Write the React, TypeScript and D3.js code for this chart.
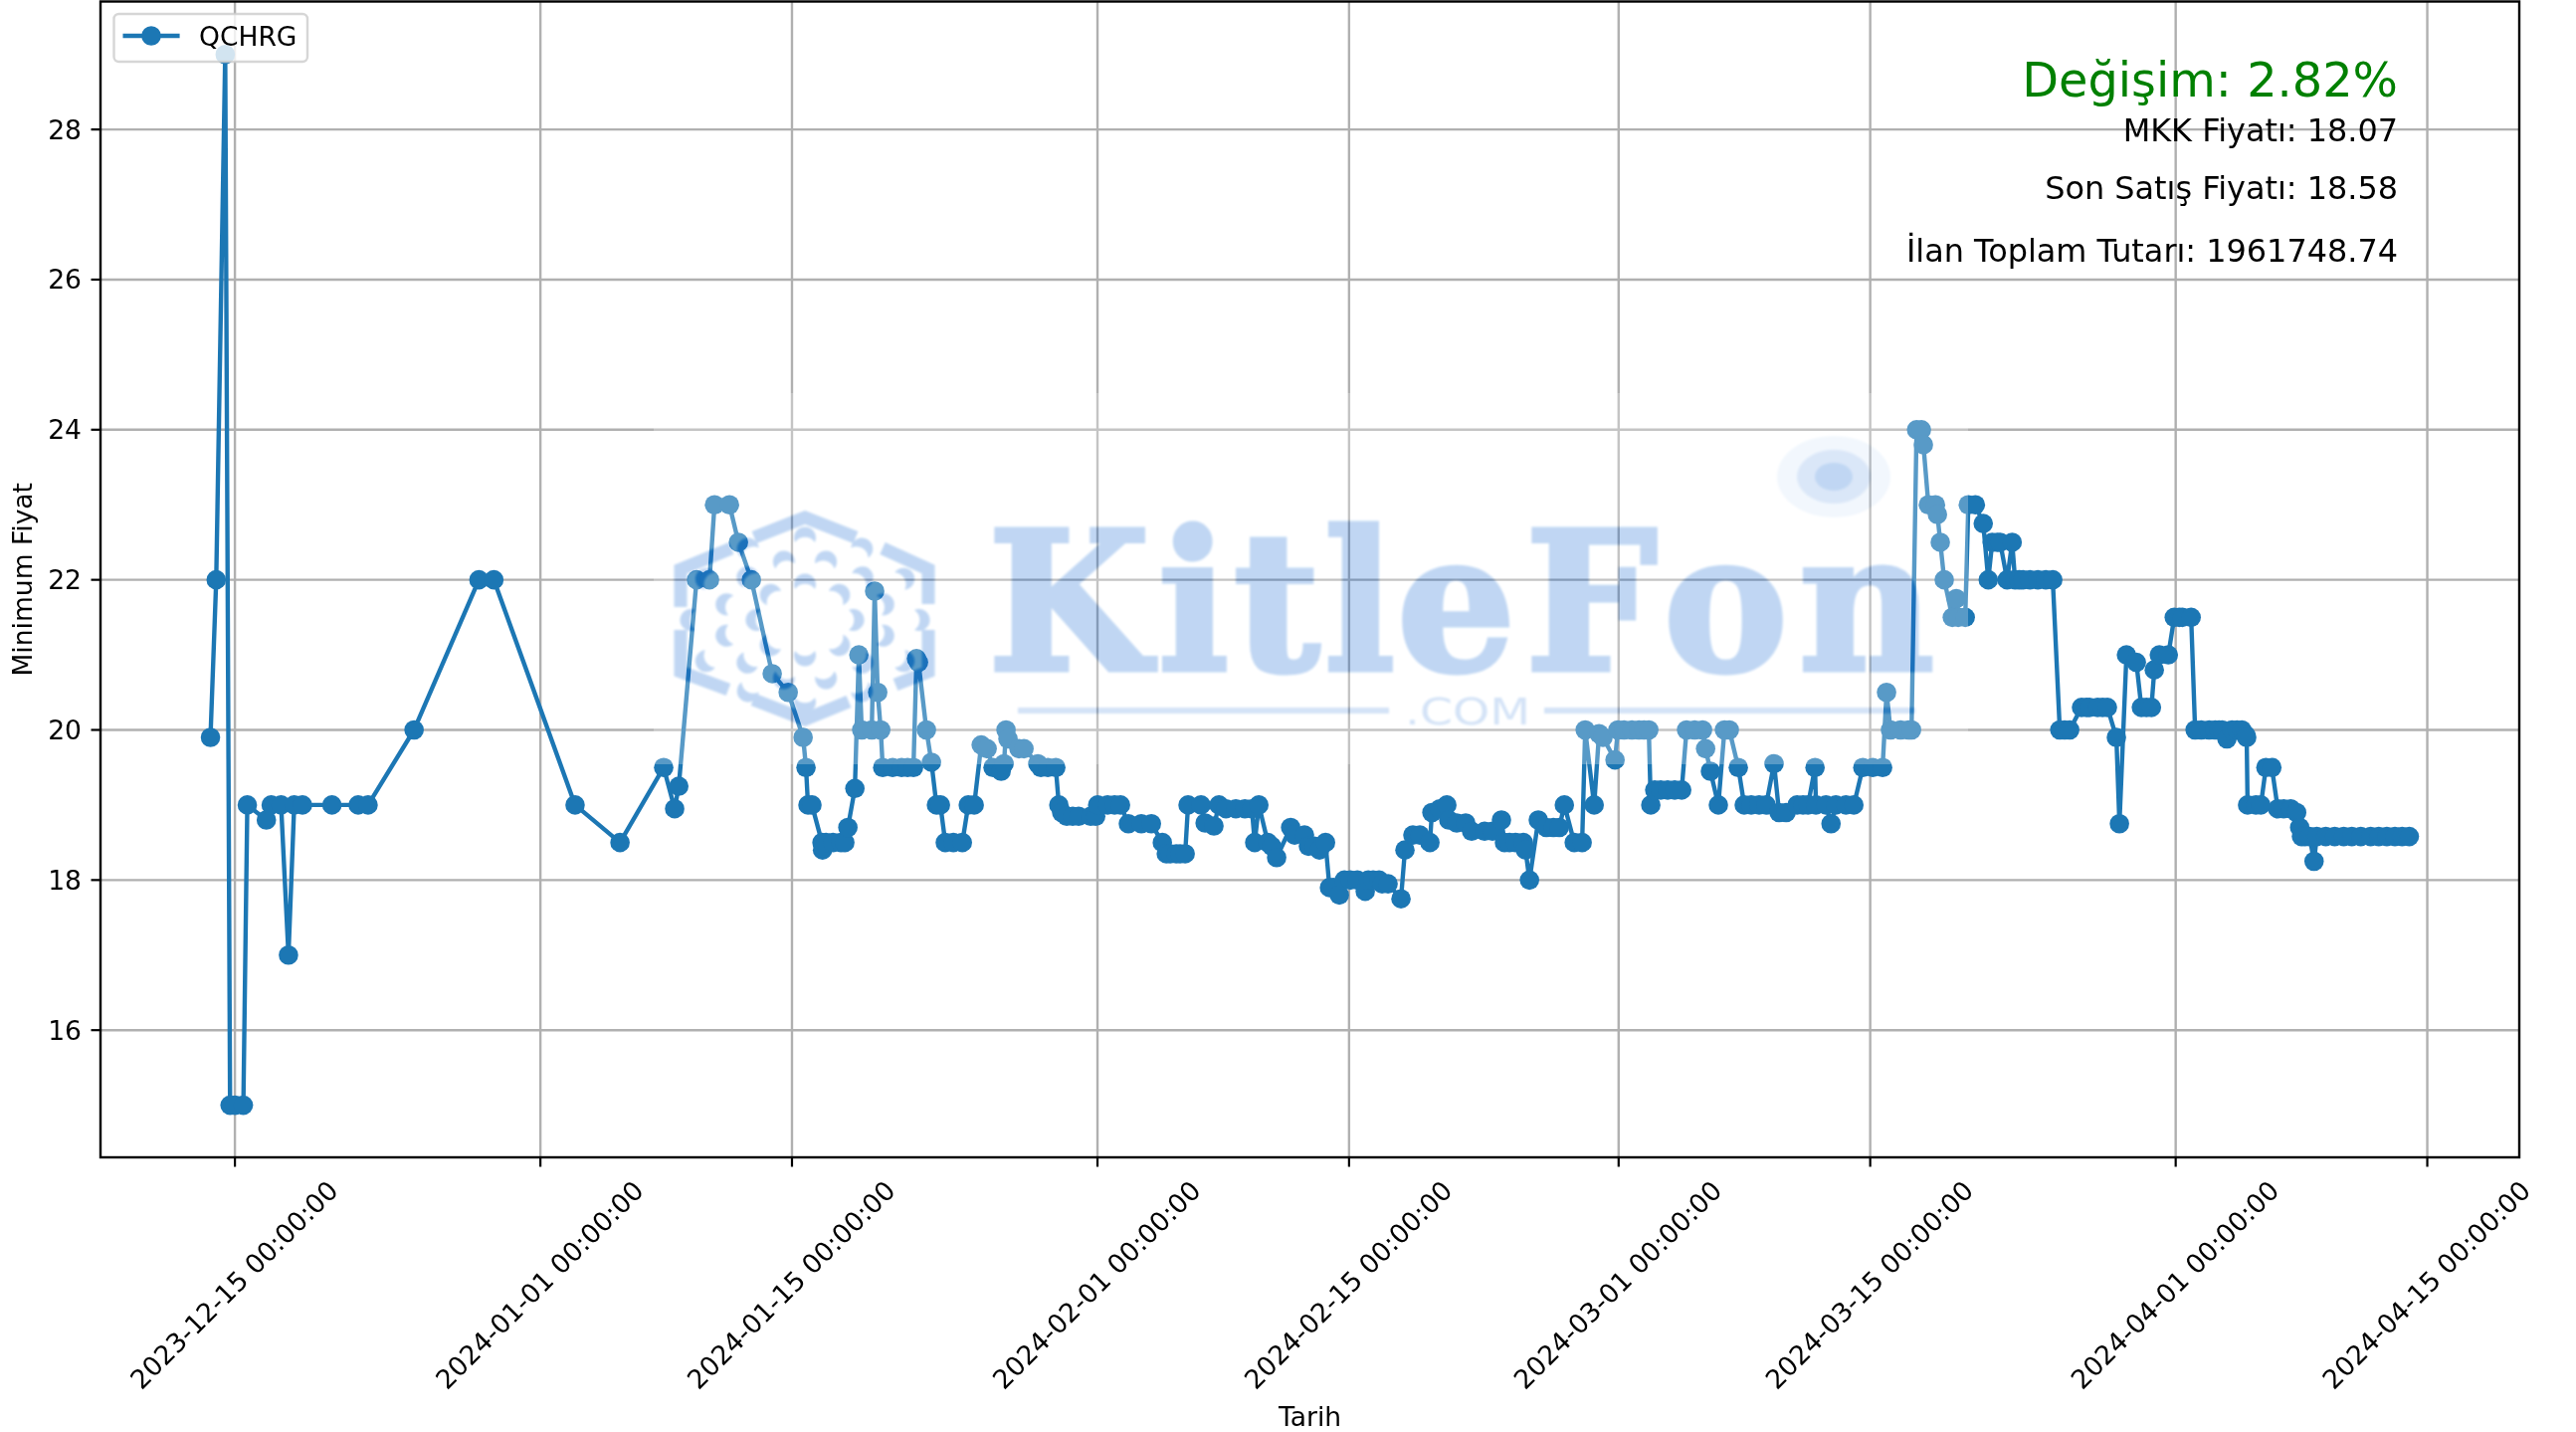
import React from "react";
import * as d3 from "d3";

type P = [number, number];

// [days since 2023-12-15, minimum price]
const december: P[] = [[-1.36,19.9],[-1.04,22],[-0.54,29],[-0.27,15],[0.01,15],[0.47,15],[0.69,19],[1.75,18.8],[2.02,19],[2.57,19],[2.98,17],[3.3,19],[3.76,19],[5.4,19],[6.86,19],[7.41,19],[9.97,20],[13.58,22],[14.41,22]];
const earlyJanuary: P[] = [[18.93,19],[21.43,18.5],[23.86,19.5],[24.47,18.95],[24.7,19.25],[25.69,22],[26.41,22],[26.69,23],[27.52,23],[28.02,22.5],[28.74,22],[29.9,20.75],[30.79,20.5],[31.62,19.9],[31.78,19.5],[31.89,19],[32.11,19],[32.67,18.5],[32.7,18.4],[32.89,18.5],[33.28,18.5],[33.72,18.5],[33.94,18.5],[34.11,18.7],[34.5,19.22],[34.72,21],[34.88,20],[35.44,20],[35.6,21.85],[35.77,20.5],[35.94,20],[36.05,19.5]];
const lateJanuary: P[] = [[36.6,19.5],[37.1,19.5],[37.43,19.5],[37.76,19.5],[37.93,20.95],[38.04,20.9],[38.48,20],[38.76,19.57],[39.04,19],[39.26,19],[39.53,18.5],[39.98,18.5],[40.48,18.5],[40.81,19],[41.14,19],[41.53,19.8],[41.86,19.75],[42.19,19.5],[42.64,19.45],[42.8,19.55],[42.91,20],[43.02,19.88],[43.63,19.75],[43.91,19.75],[44.68,19.55],[44.85,19.5],[45.24,19.5],[45.68,19.5],[45.85,19],[46.01,18.9],[46.29,18.85],[46.62,18.85],[46.95,18.85],[47.62,18.85],[47.9,18.85]];
const earlyFebruary: P[] = [[48.01,19],[48.56,19],[48.95,19],[49.28,19],[49.72,18.75],[50.44,18.75],[51,18.75],[51.61,18.5],[51.83,18.35],[52.05,18.35],[52.38,18.35],[52.6,18.35],[52.88,18.35],[53.04,19],[53.76,19],[53.99,18.76],[54.48,18.72],[54.76,19],[55.15,18.95],[55.7,18.95],[56.2,18.95],[56.59,18.95],[56.75,18.5],[56.98,19],[57.48,18.5],[57.7,18.45],[57.97,18.3],[58.75,18.7],[58.97,18.6],[59.52,18.6],[59.74,18.45],[60.07,18.45],[60.35,18.4],[60.69,18.5],[60.91,17.9],[61.13,17.9],[61.46,17.8],[61.74,18],[62.07,18],[62.46,18],[62.9,17.85],[63.07,18],[63.34,18],[63.67,18],[63.84,17.95],[64.17,17.95]];
const lateFebruary: P[] = [[64.89,17.75],[65.11,18.4],[65.55,18.6],[65.94,18.6],[66.5,18.5],[66.61,18.9],[67.05,18.95],[67.44,19],[67.55,18.8],[67.99,18.76],[68.49,18.76],[68.82,18.65],[69.54,18.65],[69.98,18.65],[70.48,18.8],[70.65,18.5],[70.93,18.5],[71.26,18.5],[71.7,18.5],[71.82,18.4],[72.04,18],[72.53,18.8],[72.98,18.7],[73.37,18.7],[73.7,18.7],[73.98,19],[74.53,18.5],[74.97,18.5],[75.14,20],[75.64,19],[75.91,19.95],[76.13,19.9],[76.8,19.6],[76.96,20]];
const earlyMarch: P[] = [[77.3,20],[77.74,20],[78.13,20],[78.41,20],[78.68,20],[78.79,19],[79.01,19.2],[79.34,19.2],[79.73,19.2],[80.12,19.2],[80.51,19.2],[80.78,20],[81.23,20],[81.67,20],[81.84,19.75],[82.11,19.45],[82.55,19],[82.89,20],[83.16,20],[83.66,19.5],[83.99,19],[84.38,19],[84.82,19],[85.21,19],[85.65,19.55],[85.93,18.9],[86.32,18.9],[86.93,19],[87.26,19],[87.54,19],[87.93,19.5],[87.98,19],[88.54,19],[88.82,18.75],[89.09,19],[89.65,19],[90.09,19],[90.59,19.5],[91.14,19.5],[91.69,19.5],[91.91,20.5],[92.13,20],[92.69,20],[93.13,20],[93.3,20]];
const lateMarch: P[] = [[93.58,24],[93.85,24],[93.96,23.8],[94.24,23],[94.63,23],[94.74,22.87],[94.9,22.5],[95.12,22],[95.57,21.5],[95.79,21.75],[95.9,21.5],[96.29,21.5],[96.46,23],[96.85,23],[97.29,22.75],[97.57,22],[97.79,22.5],[98.07,22.5],[98.23,22.5],[98.62,22],[98.9,22.5],[99.06,22],[99.28,22],[99.5,22],[99.89,22],[100.33,22],[100.77,22],[101.16,22],[101.55,20],[101.82,20],[102.1,20],[102.76,20.3],[103.04,20.3],[103.2,20.3],[103.65,20.3],[103.93,20.3],[104.2,20.3],[104.7,19.9],[104.87,18.75],[105.26,21],[105.81,20.9],[106.09,20.3],[106.37,20.3],[106.65,20.3],[106.81,20.8],[107.09,21],[107.59,21]];
const april: P[] = [[107.92,21.5],[108.2,21.5],[108.37,21.5],[108.86,21.5],[109.08,20],[109.42,20],[109.86,20],[110.19,20],[110.41,20],[110.58,20],[110.85,19.88],[111.13,20],[111.41,20],[111.68,20],[111.9,19.93],[111.95,19.9],[112,19],[112.46,19],[112.74,19],[113.02,19.5],[113.35,19.5],[113.68,18.95],[114.01,18.95],[114.4,18.95],[114.73,18.9],[114.9,18.7],[115,18.58],[115.2,18.58],[115.45,18.58],[115.7,18.25],[115.85,18.58],[116.35,18.58],[116.85,18.58],[117.35,18.58],[117.8,18.58],[118.3,18.58],[118.85,18.58],[119.3,18.58],[119.75,18.58],[120.2,18.58],[120.6,18.58],[121,18.58]];

const series: P[] = [...december, ...earlyJanuary, ...lateJanuary, ...earlyFebruary, ...lateFebruary, ...earlyMarch, ...lateMarch, ...april];

const xTickDates = ["2023-12-15", "2024-01-01", "2024-01-15", "2024-02-01", "2024-02-15", "2024-03-01", "2024-03-15", "2024-04-01", "2024-04-15"];
const yTicks = [16, 18, 20, 22, 24, 26, 28];
const seriesName = "QCHRG";
const xTitle = "Tarih";
const yTitle = "Minimum Fiyat";
const changeLabel = "Değişim: 2.82%";
const infoLabels = ["MKK Fiyatı: 18.07", "Son Satış Fiyatı: 18.58", "İlan Toplam Tutarı: 1961748.74"];

const W = 2589, H = 1439;
const L = 101, R = 2532, T = 1.5, B = 1163;
const BLUE = "#1f77b4";
const FONT = "'DejaVu Sans', sans-serif";
const FS = 26.55;
const BASE = Date.UTC(2023, 11, 15);
const toDate = (d: number) => new Date(BASE + d * 864e5);

const x = d3.scaleUtc().domain([toDate(-7.48), toDate(127.12)]).range([L, R]);
const y = d3.scaleLinear().domain([14.3, 29.7]).range([B + 0.4, T + 0.4]);
const lineGen = d3.line<P>().x((p) => x(toDate(p[0]))).y((p) => y(p[1])).curve(d3.curveLinear);
const fmt = d3.utcFormat("%Y-%m-%d %H:%M:%S");
const parse = (s: string) => new Date(s + "T00:00:00Z");

const crescent = "M-10,6 A11,11 0 1 1 10,6 A12,12 0 0 0 -10,6 Z";
const rings = [
  { rx: 50, ry: 37, n: 8, off: 0 },
  { rx: 83, ry: 62, n: 12, off: 15 },
  { rx: 116, ry: 84, n: 12, off: 0 },
];
const brandX = [993, 1164, 1240, 1331, 1404, 1533, 1672, 1808];
const BRAND_SCALE = 0.97;

function Watermark() {
  const cx = 809, cy = 623;
  const hexPaths = [
    "M758,540 L809,520 L860,540",
    "M887,551 L933,572 L933,607",
    "M933,633 L933,675 L900,688",
    "M853,705 L809,723 L757,703",
    "M732,693 L684,675 L684,633",
    "M684,610 L684,572 L735,551",
  ];
  const W0 = "#0d64d0";
  return (
    <g opacity={0.26}>
      <rect x={657} y={395} width={1321} height={373} fill="#fff" />
      <g filter="url(#soft)">
        {hexPaths.map((d, i) => (
          <path key={i} d={d} fill="none" stroke={W0} strokeWidth={13} />
        ))}
        {rings.map((r, ri) =>
          d3.range(r.n).map((k) => {
            const th = r.off + (k * 360) / r.n;
            const a = (th * Math.PI) / 180;
            return (
              <path
                key={`${ri}-${k}`}
                d={crescent}
                fill={W0}
                transform={`translate(${cx + r.rx * Math.cos(a)},${cy + r.ry * Math.sin(a)}) rotate(${th + 90})`}
              />
            );
          })
        )}
        <text
          x={brandX.map((v) => v / BRAND_SCALE).join(" ")}
          y={673}
          transform={`scale(${BRAND_SCALE},1)`}
          fontFamily="'DejaVu Serif', serif"
          fontWeight={700}
          fontSize={193}
          fill={W0}
          stroke={W0}
          strokeWidth={5}
        >
          KitleFon
        </text>
        <g fillOpacity={0.7} strokeOpacity={0.7}>
          <rect x={1023} y={711} width={373} height={6} fill={W0} />
          <rect x={1552} y={711} width={373} height={6} fill={W0} />
          <text x={1412} y={728} fontFamily={FONT} fontSize={38} fill={W0} textLength={126} lengthAdjust="spacingAndGlyphs">
            .COM
          </text>
        </g>
        <ellipse cx={1843} cy={479} rx={57} ry={41} fill={W0} fillOpacity={0.2} />
        <ellipse cx={1843} cy={479} rx={37} ry={27} fill={W0} fillOpacity={0.5} />
        <ellipse cx={1843} cy={479} rx={19} ry={14} fill={W0} />
      </g>
    </g>
  );
}

export default function App() {
  const legX = 114.5, legY = 14, legW = 194.5, legH = 48;
  const tickLabelY = 1290;
  return (
    <svg
      width={W}
      height={H}
      viewBox={`0 0 ${W} ${H}`}
      style={{ position: "absolute", left: 0, top: 0, display: "block", background: "#fff" }}
    >
      <defs>
        <filter id="soft" x="-5%" y="-5%" width="110%" height="110%">
          <feGaussianBlur stdDeviation={1.2} />
        </filter>
        <filter id="all" filterUnits="userSpaceOnUse" x={0} y={0} width={W} height={H}>
          <feGaussianBlur stdDeviation={0.6} />
        </filter>
        <clipPath id="plot">
          <rect x={L} y={T} width={R - L} height={B - T} />
        </clipPath>
      </defs>

      <g filter="url(#all)">
        <rect x={0} y={0} width={W} height={H} fill="#fff" />

        {/* grid */}
        <g stroke="#b0b0b0" strokeWidth={2.4} fill="none">
          {xTickDates.map((t) => (
            <line key={t} x1={x(parse(t))} x2={x(parse(t))} y1={T} y2={B} />
          ))}
          {yTicks.map((t) => (
            <line key={t} x1={L} x2={R} y1={y(t)} y2={y(t)} />
          ))}
        </g>

        {/* series */}
        <g clipPath="url(#plot)">
          <path d={lineGen(series) ?? ""} fill="none" stroke={BLUE} strokeWidth={4.4} strokeLinejoin="round" />
          {series.map((p, i) => (
            <circle key={i} cx={x(toDate(p[0]))} cy={y(p[1])} r={9.8} fill={BLUE} />
          ))}
        </g>

        {/* ticks */}
        <g stroke="#000" strokeWidth={2.2}>
          {xTickDates.map((t) => (
            <line key={t} x1={x(parse(t))} x2={x(parse(t))} y1={B} y2={B + 9.5} />
          ))}
          {yTicks.map((t) => (
            <line key={t} x1={L} x2={L - 9.5} y1={y(t)} y2={y(t)} />
          ))}
        </g>
        <g fontFamily={FONT} fontSize={FS} fill="#000">
          {xTickDates.map((t) => (
            <text
              key={t}
              textAnchor="middle"
              dominantBaseline="central"
              transform={`translate(${x(parse(t)) - 1},${tickLabelY + 1}) rotate(-45)`}
            >
              {fmt(parse(t))}
            </text>
          ))}
          {yTicks.map((t) => (
            <text key={t} x={L - 19} y={y(t)} textAnchor="end" dominantBaseline="central">
              {t}
            </text>
          ))}
          <text x={(L + R) / 2} y={1433} textAnchor="middle">
            {xTitle}
          </text>
          <text transform={`translate(32,${(T + B) / 2}) rotate(-90)`} textAnchor="middle">
            {yTitle}
          </text>
        </g>

        {/* spines */}
        <rect x={L} y={T} width={R - L} height={B - T} fill="none" stroke="#000" strokeWidth={2.4} />

        {/* annotations */}
        <g fontFamily={FONT} textAnchor="end">
          <text x={2410} y={97} fontSize={47.8} fill="#008000">
            {changeLabel}
          </text>
          {infoLabels.map((s, i) => (
            <text key={s} x={2410} y={[142, 200, 263][i]} fontSize={31.9} fill="#000">
              {s}
            </text>
          ))}
        </g>

        {/* legend */}
        <g>
          <rect x={legX} y={legY} width={legW} height={legH} rx={5} fill="#fff" fillOpacity={0.8} stroke="#ccc" strokeOpacity={0.8} strokeWidth={2.4} />
          <line x1={123.5} x2={180.6} y1={36} y2={36} stroke={BLUE} strokeWidth={4.4} />
          <circle cx={152} cy={36} r={9.8} fill={BLUE} />
          <text x={200} y={45.5} fontFamily={FONT} fontSize={FS} fill="#000">
            {seriesName}
          </text>
        </g>

        <Watermark />
      </g>
    </svg>
  );
}
